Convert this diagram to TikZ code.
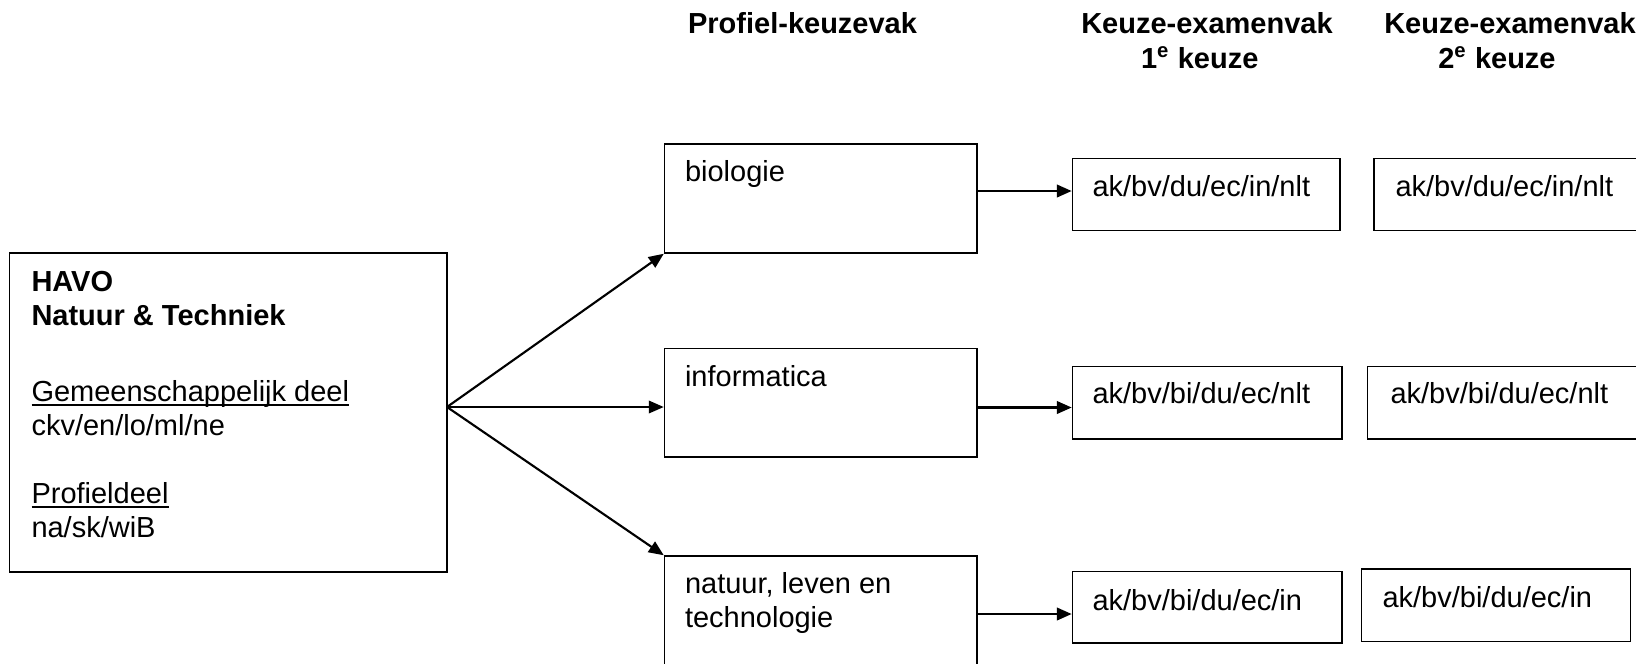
\documentclass[tikz,border=0pt]{standalone}
\usepackage{fontspec}
\setmainfont{Liberation Sans}
\usetikzlibrary{arrows.meta,fit,calc}
\newsavebox\ulbox
\newcommand\myul[1]{\sbox\ulbox{#1}\rlap{\rule[-1.8pt]{\wd\ulbox}{0.75pt}}\usebox\ulbox}
\begin{document}
\begin{tikzpicture}[x=0.4pt,y=-0.4pt,
  every node/.style={font=\fontsize{11.6pt}{13.5pt}\selectfont, inner sep=0pt},
  box/.style={draw, line width=0.6pt, inner sep=0pt},
  txt/.style={anchor=base west, align=left},
  head/.style={font=\fontsize{11.6pt}{14pt}\selectfont\bfseries},
  arr/.style={-{Triangle[length=6pt,width=5pt]}, line width=0.85pt},
  arrb/.style={-{Triangle[length=6pt,width=5pt]}, line width=1.05pt},
]
\clip (0,0) rectangle (1636,663);
% headers (anchor base = last line)
\node[head, anchor=base west] (h1) at (687.6,33) {Profiel-keuzevak};
\node[head, align=center, anchor=base] (h2) at (1207,68) {Keuze-examenvak\\1\textsuperscript{e} keuze\hspace*{0.5em}};
\node[head, align=center, anchor=base] (h3) at (1510,68) {Keuze-examenvak\\2\textsuperscript{e} keuze\hspace*{0.9em}};
% main box
\node[box, fit={(9.5,253) (447,572)}] (havo) {};
\node[txt] (havot) at (31,537) {{\bfseries HAVO}\\{\bfseries Natuur \& Techniek}\\[17.2pt]\myul{Gemeenschappelijk deel}\\ckv/en/lo/ml/ne\\[13.6pt]\myul{Profieldeel}\\na/sk/wiB};
% profile boxes
\node[box, fit={(664.5,144) (977,253)}] (bio) {};
\node[txt] (biot) at (684.5,181.7) {biologie};
\node[box, fit={(664.5,348.5) (977,457)}] (info) {};
\node[txt] (infot) at (684.5,386.7) {informatica};
\node[box, fit={(664.5,556) (977,680)}] (nat) {};
\node[txt] (natt) at (684.5,627) {natuur, leven en\\technologie};
% first choice
\node[box, fit={(1072.5,158.5) (1340,230.5)}] (c1a) {};
\node[txt] (c1at) at (1092,196) {ak/bv/du/ec/in/nlt};
\node[box, fit={(1072.5,366.5) (1342,439)}] (c1b) {};
\node[txt] (c1bt) at (1092,403) {ak/bv/bi/du/ec/nlt};
\node[box, fit={(1072.5,571.5) (1342,643)}] (c1c) {};
\node[txt] (c1ct) at (1092,610) {ak/bv/bi/du/ec/in};
% second choice
\node[box, fit={(1374,158.5) (1660,230.5)}] (c2a) {};
\node[txt] (c2at) at (1395,196) {ak/bv/du/ec/in/nlt};
\node[box, fit={(1367.5,366.5) (1660,439)}] (c2b) {};
\node[txt] (c2bt) at (1390,403) {ak/bv/bi/du/ec/nlt};
\node[box, fit={(1361.5,569) (1630.5,641.5)}] (c2c) {};
\node[txt] (c2ct) at (1382,607) {ak/bv/bi/du/ec/in};
% connectors
\coordinate (src) at (447,407);
\draw[arr] (src) -- (bio.south west);
\draw[arr] (src) -- (src -| info.west);
\draw[arr] (src) -- (nat.north west);
\draw[arrb] (bio.east |- 0,191) -- (c1a.west |- 0,191);
\draw[arrb] (info.east |- 0,407.5) -- (c1b.west |- 0,407.5);
\draw[arrb] (nat.east |- 0,614) -- (c1c.west |- 0,614);
\end{tikzpicture}
\end{document}
